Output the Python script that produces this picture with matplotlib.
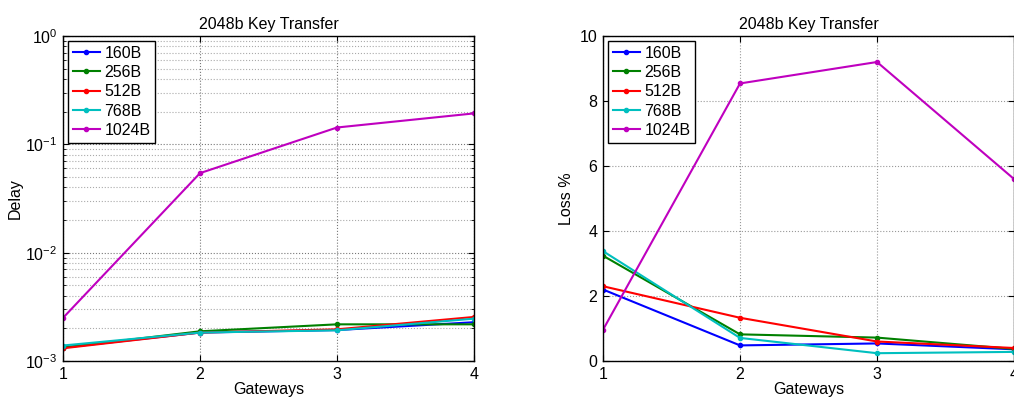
import matplotlib.pyplot as plt
from matplotlib.ticker import LogLocator, NullFormatter

plt.rcParams['font.family'] = ['Liberation Sans', 'DejaVu Sans']

gateways = [1, 2, 3, 4]
labels = ["160B", "256B", "512B", "768B", "1024B"]
colors = ["#0000ff", "#008000", "#ff0000", "#00bfbf", "#bf00bf"]

# delay (seconds), one list per packet size
delay_160 = [1.33e-3, 1.83e-3, 1.93e-3, 2.28e-3]
delay_256 = [1.33e-3, 1.88e-3, 2.18e-3, 2.18e-3]
delay_512 = [1.31e-3, 1.83e-3, 1.96e-3, 2.55e-3]
delay_768 = [1.39e-3, 1.83e-3, 1.92e-3, 2.46e-3]
delay_1024 = [2.5e-3, 0.0542, 0.143, 0.193]

# loss (%)
loss_160 = [2.2, 0.48, 0.54, 0.36]
loss_256 = [3.24, 0.82, 0.72, 0.37]
loss_512 = [2.3, 1.33, 0.6, 0.40]
loss_768 = [3.38, 0.71, 0.24, 0.28]
loss_1024 = [0.96, 8.54, 9.2, 5.6]

delays = [delay_160, delay_256, delay_512, delay_768, delay_1024]
losses = [loss_160, loss_256, loss_512, loss_768, loss_1024]

fig = plt.figure(figsize=(10.14, 4.01), dpi=100)
ax1 = fig.add_axes([63 / 1014, 40 / 401, 411 / 1014, 325 / 401])
ax2 = fig.add_axes([603 / 1014, 40 / 401, 411 / 1014, 325 / 401])

FS = 11.5


def style(ax):
    ax.tick_params(direction='in', which='both', top=True, right=True,
                   labelsize=FS, length=4, pad=4)
    ax.tick_params(which='minor', length=2)
    for s in ax.spines.values():
        s.set_linewidth(1.0)
    ax.set_xlim(1, 4)
    ax.set_xticks(gateways)
    ax.set_xlabel("Gateways", fontsize=FS, labelpad=0)
    ax.set_title("2048b Key Transfer", fontsize=11.5, pad=5)
    leg = ax.legend(loc='upper left', fontsize=FS, handlelength=1.7,
                    borderpad=0.3, labelspacing=0.27, handletextpad=0.3,
                    fancybox=False, framealpha=1, borderaxespad=0.3)
    leg.get_frame().set_edgecolor('black')
    leg.get_frame().set_linewidth(1.0)


for lab, c, d in zip(labels, colors, delays):
    ax1.plot(gateways, d, '-', marker='.', ms=6, lw=1.5, color=c, label=lab)
ax1.set_yscale('log')
ax1.set_ylim(1e-3, 1)
ax1.yaxis.set_major_locator(LogLocator(base=10, numticks=10))
ax1.yaxis.set_minor_locator(LogLocator(base=10, subs=range(2, 10), numticks=10))
ax1.yaxis.set_minor_formatter(NullFormatter())
ax1.grid(True, which='major', linestyle=':', color='#777777', lw=0.8)
ax1.grid(True, which='minor', axis='y', linestyle=':', color='#aaaaaa', lw=0.8)
ax1.set_ylabel("Delay", fontsize=FS, labelpad=2)
style(ax1)

for lab, c, l in zip(labels, colors, losses):
    ax2.plot(gateways, l, '-', marker='.', ms=6, lw=1.5, color=c, label=lab)
ax2.set_ylim(0, 10)
ax2.set_yticks([0, 2, 4, 6, 8, 10])
ax2.grid(True, linestyle=':', color='#999999', lw=0.8)
ax2.set_ylabel("Loss %", fontsize=FS, labelpad=4)
style(ax2)

fig.savefig("out.png", dpi=100)
